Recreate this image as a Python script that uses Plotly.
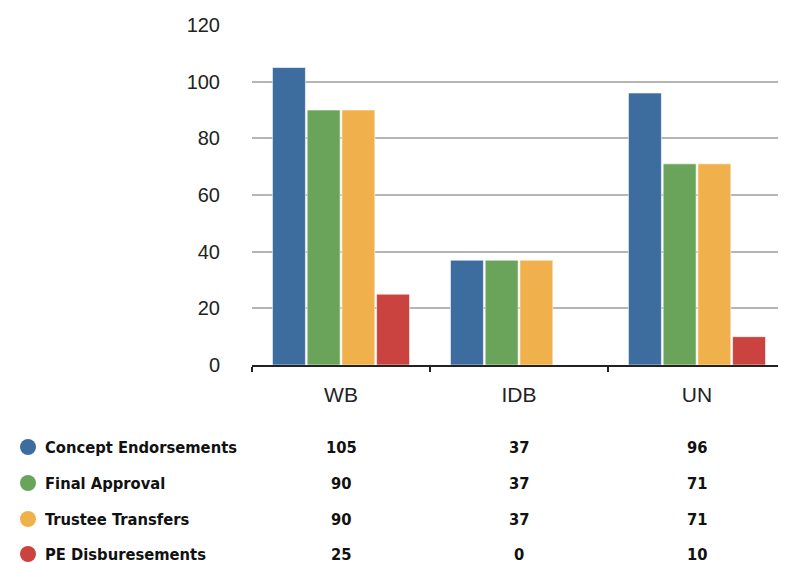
import plotly.graph_objects as go

categories = ["WB", "IDB", "UN"]
series_names = ["Concept Endorsements", "Final Approval", "Trustee Transfers", "PE Disburesements"]
concept = [105, 37, 96]
final_approval = [90, 37, 71]
trustee = [90, 37, 71]
pe_disb = [25, 0, 10]
y_ticks = [0, 20, 40, 60, 80, 100, 120]

colors = ["#3d6c9e", "#6aa45a", "#f0b04c", "#cb433f"]
values = [concept, final_approval, trustee, pe_disb]

# page offset (default body margin) compensation
OFF = 8
W, H = 786 - OFF, 563 - OFF
ML, MR, MT, MB = 252 - OFF, 0, 25 - OFF, 198
PW, PH = W - ML - MR, H - MT - MB

fig = go.Figure()
for name, vals, col in zip(series_names, values, colors):
    fig.add_trace(go.Bar(x=categories, y=vals, name=name, marker_color=col,
                         marker_line_color="white", marker_line_width=0.6,
                         showlegend=False))

def px_to_paper_x(px):
    return (px - OFF - ML) / PW

def py_to_paper_y(py):
    return (H - MB - (py - OFF)) / PH

table_font = dict(family="DejaVu Sans Condensed, DejaVu Sans", size=16.4, color="#111")
row_y = [447, 483, 519, 554]
shapes = []
annotations = []
for i, (name, vals, col) in enumerate(zip(series_names, values, colors)):
    yp = py_to_paper_y(row_y[i])
    shapes.append(dict(type="circle", xref="paper", yref="paper",
                       xsizemode="pixel", ysizemode="pixel",
                       xanchor=px_to_paper_x(28), yanchor=yp,
                       x0=-8, x1=8, y0=-8, y1=8,
                       fillcolor=col, line_width=0))
    annotations.append(dict(xref="paper", yref="paper", x=px_to_paper_x(44), y=yp,
                            xanchor="left", yanchor="middle", showarrow=False,
                            borderpad=0, text="<b>" + name + "</b>", font=table_font))
    for c, v in zip(categories, vals):
        annotations.append(dict(xref="x", yref="paper", x=c, y=yp,
                                xanchor="center", yanchor="middle", showarrow=False,
                                borderpad=0, text="<b>" + str(v) + "</b>", font=table_font))

fig.update_layout(
    width=W, height=H,
    margin=dict(l=ML, r=MR, t=MT, b=MB),
    paper_bgcolor="white", plot_bgcolor="white",
    barmode="group", bargap=0.22, bargroupgap=0.05,
    font=dict(family="Liberation Sans, Arial, Helvetica", size=20, color="#222"),
    shapes=shapes, annotations=annotations,
)
fig.update_xaxes(type="category", showgrid=False, showline=True, linecolor="#222",
                 linewidth=1.5, ticks="outside", tickson="boundaries", ticklen=5,
                 tickcolor="#222", tickwidth=1.5, ticklabelstandoff=10,
                 tickfont=dict(size=21, color="#222"))
fig.update_yaxes(range=[0, 120], tickvals=y_ticks, showgrid=True, gridcolor="#b5b5b5",
                 gridwidth=1.5, zeroline=False, showline=False, ticks="",
                 ticklabelstandoff=31, tickfont=dict(size=20, color="#222"))

fig.write_html("out.html")
